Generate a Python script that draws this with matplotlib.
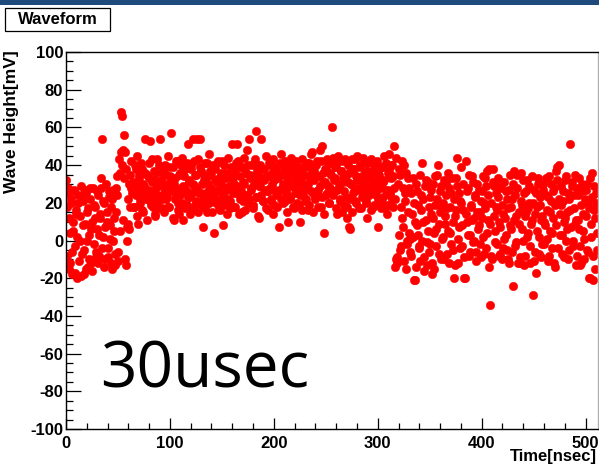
import numpy as np
import matplotlib
matplotlib.use("Agg")
import matplotlib.pyplot as plt
from matplotlib.patches import Rectangle
from matplotlib.ticker import MultipleLocator

# ---- data: wave height [mV]; samples on whole nsec and on half nsec ----
sample_step_ns = 1.0
half_offset_ns = 0.5

# samples at t = 0, 1, 2, ...
heights_0_63 = [
    32, -8, 25, 12, -12, 22, -18, 5, 26, -3, 14, -20, 20, 0, -19, 24,
    8, -5, 27, -15, 15, -14, 3, 22, -12, 10, 28, -2, 18, -9, 6, 24,
    -8, 12, 33, 54, 2, 20, -10, 15, -4, 26, 8, -12, 22, 0, 12, -13,
    28, 34, -6, 43, 5, 68, 66, 48, 56, -10, -13, 7, 22, 6, 35, 28,
]
heights_64_315 = [
    30, 18, 40, 24, 45, 9, 33, 20, 27, 38, 15, 29, 54, 22, 35, 26,
    41, 53, 19, 31, 24, 37, 14, 28, 43, 21, 54, 32, 17, 36, 25, 40,
    22, 30, 45, 18, 34, 57, 27, 39, 11, 33, 24, 42, 20, 14, 36, 28,
    44, 11, 26, 38, 19, 51, 31, 23, 40, 16, 54, 29, 35, 21, 54, 43,
    25, 54, 37, 19, 7, 32, 41, 24, 15, 30, 46, 22, 35, 27, 4, 38,
    20, 31, 42, 17, 28, 36, 23, 8, 40, 26, 33, 14, 44, 29, 21, 37,
    51, 25, 34, 18, 41, 51, 28, 22, 39, 15, 31, 44, 24, 36, 48, 20,
    54, 33, 27, 40, 17, 30, 43, 58, 23, 35, 12, 29, 54, 38, 21, 32,
    45, 26, 16, 34, 40, 22, 30, 43, 19, 27, 37, 24, 33, 7, 41, 46,
    28, 20, 35, 42, 25, 31, 10, 38, 22, 44, 29, 17, 33, 40, 26, 36,
    19, 10, 30, 43, 24, 35, 21, 39, 28, 16, 41, 32, 46, 47, 25, 37,
    22, 34, 42, 27, 48, 18, 50, 31, 4, 38, 24, 43, 29, 20, 36, 41,
    60, 44, 26, 33, 39, 14, 45, 28, 22, 37, 42, 31, 19, 35, 12, 40,
    7, 6, 30, 43, 25, 38, 21, 34, 45, 27, 17, 40, 32, 23, 44, 29,
    36, 20, 12, 41, 33, 26, 43, 18, 38, 30, 24, 42, 7, 35, 28, 21,
    39, 31, 45, 17, 27, 14, 36, 46, 24, 33, 40, 18,
]
heights_316_511 = [
    50, -14, -10, -9, 3, 35, -3, 12, 28, 40, 21, -15, 0, 33, 4, -6,
    25, 14, 2, -21, -21, 30, 8, 19, -4, -11, 24, 41, 10, -16, 32, -13,
    5, 18, -2, 27, -18, 12, -15, 34, 6, 22, 40, -7, 15, 29, 1, 20,
    -10, 9, 31, 17, 36, -12, 4, 25, -5, -20, 13, 33, 44, -12, 7, 21,
    39, -3, 16, -20, -20, 42, 10, 28, -8, 3, 19, 34, -1, 12, 24, -6,
    30, 8, 15, -9, 26, 2, 20, 33, -4, 37, 11, 38, -34, -8, -10, 38,
    29, 5, 18, -2, 23, 10, -7, 31, -10, 14, 1, 26, -5, 17, -12, 35,
    6, 22, -24, 37, -3, 13, 28, -12, 9, -12, 36, 19, 0, 25, -8, 15,
    32, 4, 20, -12, 11, -29, 27, -6, -17, 18, 33, 2, 23, -9, 13, 30,
    -2, 8, 24, 16, -11, 34, 5, 21, -4, 12, 28, -14, 37, 39, 40, 3,
    19, -7, 26, 10, 32, 0, 15, -10, 22, 51, 7, 29, -3, 17, 35, 11,
    -8, 24, 6, -13, -12, 30, 14, 1, 27, -5, 20, -20, -20, 9, 36, -21,
    16, -15, 25, 4,
]

# samples at t = 0.5, 1.5, 2.5, ...
heights_0_63_half = [
    18, 28, -15, 4, 20, -6, 10, 27, -17, 16, 2, 24, -11, 13, 29, -7,
    21, -18, 9, 25, 0, 17, -10, 28, 6, -16, 19, 12, -6, 26, -12, 3,
    14, 28, -4, 21, -14, 7, 30, 10, -9, 23, 1, 18, -15, 27, 5, -7,
    15, 24, -11, 36, 47, 40, 11, 33, 47, 38, 0, 9, 30, 18, 42, 25,
]
heights_64_315_half = [
    31, 18, 26, 38, 13, 29, 35, 22, 41, 16, 30, 24, 36, 11, 27, 33,
    21, 26, 43, 18, 32, 13, 36, 24, 29, 40, 17, 31, 22, 38, 15, 28,
    35, 23, 18, 39, 26, 33, 12, 30, 22, 42, 27, 16, 35, 24, 40, 20,
    29, 34, 17, 27, 41, 23, 32, 14, 38, 25, 30, 42, 19, 35, 27, 15,
    39, 25, 30, 22, 35, 17, 33, 41, 26, 20, 37, 28, 15, 40, 23, 32,
    26, 41, 21, 33, 16, 30, 42, 25, 19, 36, 28, 22, 34, 17, 39, 27,
    31, 18, 37, 25, 29, 42, 14, 34, 26, 39, 21, 30, 16, 36, 24, 40,
    22, 35, 28, 19, 41, 32, 23, 37, 13, 29, 40, 24, 33, 21, 38, 27,
    17, 34, 26, 41, 28, 21, 36, 14, 32, 39, 25, 18, 35, 27, 22, 40,
    30, 38, 21, 27, 15, 34, 41, 23, 37, 29, 18, 33, 25, 42, 20, 31,
    37, 24, 32, 16, 39, 27, 22, 41, 30, 19, 35, 26, 38, 15, 32, 23,
    40, 26, 18, 34, 29, 42, 23, 36, 14, 31, 38, 25, 41, 20, 28, 35,
    24, 32, 39, 17, 27, 42, 30, 21, 37, 15, 33, 26, 43, 23, 18, 31,
    36, 22, 30, 15, 38, 26, 43, 20, 32, 28, 39, 17, 34, 25, 30, 41,
    21, 37, 28, 24, 42, 16, 31, 35, 19, 40, 26, 33, 22, 38, 29, 17,
    39, 23, 32, 41, 19, 27, 37, 25, 40, 22, 34, 28,
]
heights_316_511_half = [
    22, 44, -12, 30, 38, -5, 18, 42, 7, -11, 25, 36, -2, 15, 28, 1,
    -8, 33, 20, 10, -14, 26, 3, -3, 35, 16, 0, 22, -9, 29, 11, -1,
    31, -6, 23, 14, -12, 30, 4, 19, -3, 35, 9, 26, -10, 17, 2, 32,
    13, 24, -7, 5, 28, 18, -2, 33, 10, 22, -13, 16, 29, 1, 25, -4,
    20, 8, 30, -9, 14, 26, 3, 35, -6, 18, 11, 31, 0, 23, -11, 15,
    6, 27, -2, 21, 12, 34, -7, 17, 29, 4, 24, -14, 9, 20, 31, 13,
    -1, 25, 16, 33, -8, 7, 28, 19, -4, 31, 12, 3, 22, -10, 27, 8,
    18, -6, 30, 11, 24, -1, 35, 15, -9, 21, 6, 32, -13, 13, 26, 2,
    17, 29, -3, 9, 34, 20, -11, 14, 25, 5, 30, -7, 19, 11, -2, 27,
    10, 33, 1, 23, -8, 15, 30, 4, 26, -12, 19, 8, 32, -4, 22, 14,
    29, 3, 21, -9, 12, 34, 6, 25, -5, 16, 31, 0, 24, 9, -13, 28,
    11, 33, -3, 19, 26, 5, -10, 22, 13, 30, -6, 17, 33, 2, 23, -8,
    29, 12, 20, -5,
]

x_ticks = [0, 100, 200, 300, 400, 500]
y_ticks = [-100, -80, -60, -40, -20, 0, 20, 40, 60, 80, 100]

title_text = "Waveform"
x_title = "Time[nsec]"
y_title = "Wave Height[mV]"
annotation = "30usec"

h_whole = np.array(heights_0_63 + heights_64_315 + heights_316_511, dtype=float)
h_half = np.array(heights_0_63_half + heights_64_315_half + heights_316_511_half, dtype=float)
t_whole = np.arange(len(h_whole)) * sample_step_ns
t_half = np.arange(len(h_half)) * sample_step_ns + half_offset_ns
times = np.concatenate([t_whole, t_half])
heights = np.concatenate([h_whole, h_half])

# ---- figure ----
W, H = 599, 467
fig = plt.figure(figsize=(W / 100, H / 100), dpi=100)
fig.patch.set_facecolor("white")

# top blue band
fig.patches.append(Rectangle((0, 1 - 5 / H), 1, 5 / H, transform=fig.transFigure,
                             facecolor="#1f4a7c", edgecolor="none"))

ax_left, ax_right = 66 / W, 598 / W
ax_bottom, ax_top = 1 - 429 / H, 1 - 52 / H
ax = fig.add_axes([ax_left, ax_bottom, ax_right - ax_left, ax_top - ax_bottom])

ax.plot(times, heights, linestyle="none", marker="o", ms=6.0,
        markerfacecolor="#ff0000", markeredgecolor="#ff0000", markeredgewidth=0.4)

ax.set_xlim(0, 512)
ax.set_ylim(-100, 100)
ax.set_xticks(x_ticks)
ax.set_yticks(y_ticks)
ax.xaxis.set_minor_locator(MultipleLocator(20))
ax.yaxis.set_minor_locator(MultipleLocator(5))

lab_font = dict(family="Liberation Sans", weight="bold", size=12)
ax.set_xticklabels([str(v) for v in x_ticks], **lab_font)
ax.set_yticklabels([str(v) for v in y_ticks], **lab_font)

ax.tick_params(axis="y", which="major", direction="in", length=10.5, width=0.9, pad=2, right=False)
ax.tick_params(axis="y", which="minor", direction="in", length=5, width=0.9, right=False)
ax.tick_params(axis="x", which="major", direction="in", length=8, width=0.9, pad=5, top=False)
ax.tick_params(axis="x", which="minor", direction="in", length=4.3, width=0.9, top=False)

for s in ["left", "bottom", "top"]:
    ax.spines[s].set_color("black")
    ax.spines[s].set_linewidth(1.0)
ax.spines["right"].set_color("#b0b0b0")
ax.spines["right"].set_linewidth(1.0)

# axis titles
fig.text(597 / W, 1 - 457 / H, x_title, ha="right", va="center", **lab_font)
fig.text(12 / W, 1 - 50 / H, y_title, ha="center", va="top", rotation=90,
         family="Liberation Sans", weight="bold", size=12.5)

# big annotation
fig.text(100 / W, 1 - 388 / H, annotation, ha="left", va="baseline",
         family="Open Sans", fontsize=46, color="black")

# title box
fig.patches.append(Rectangle((5 / W, 1 - 31 / H), 105 / W, 23 / H, transform=fig.transFigure,
                             facecolor="white", edgecolor="black", linewidth=0.9))
fig.text(57.5 / W, 1 - 19.5 / H, title_text, ha="center", va="center", **lab_font)

fig.savefig("out.png", dpi=100)
